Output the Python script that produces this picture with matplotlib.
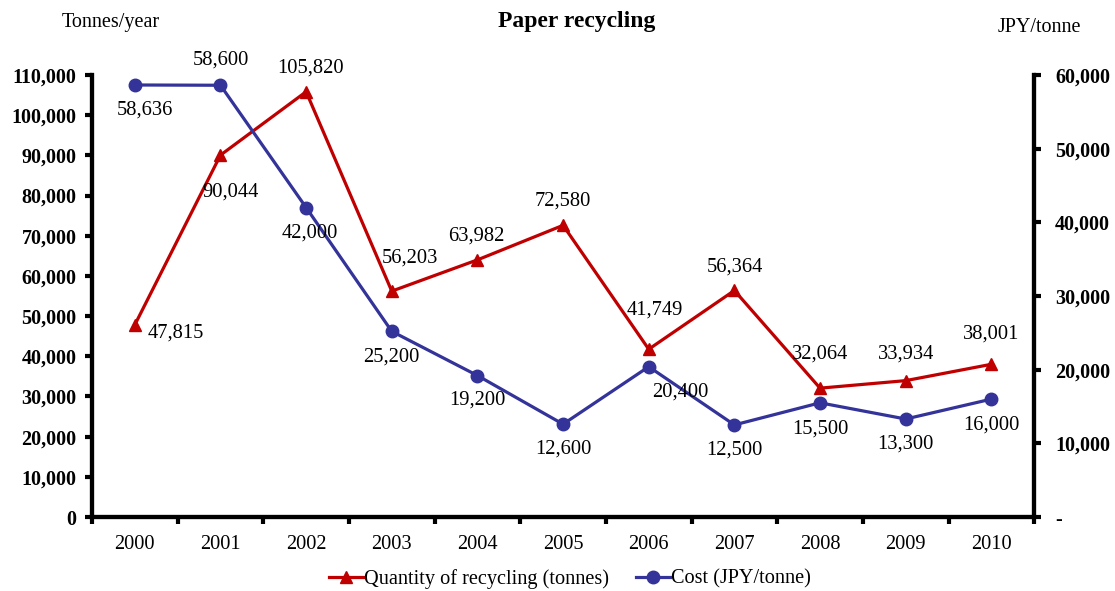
import matplotlib.pyplot as plt
from matplotlib.ticker import FuncFormatter

plt.rcParams['font.family'] = ['Liberation Serif', 'DejaVu Serif']

years = ['2000', '2001', '2002', '2003', '2004', '2005', '2006', '2007', '2008', '2009', '2010']
quantity = [47815, 90044, 105820, 56203, 63982, 72580, 41749, 56364, 32064, 33934, 38001]
cost = [58636, 58600, 42000, 25200, 19200, 12600, 20400, 12500, 15500, 13300, 16000]

# label offsets in pixels (dx, dy) relative to each point
qty_offsets = [(13, -8), (10, -37), (4, 24), (18, 33), (-1, 24), (0, 24),
               (6, 39), (1, 23), (0, 34), (0, 27), (0, 30)]
cost_offsets = [(10, -25), (0, 25), (4, -25), (0, -26), (0, -25), (0, -25),
                (32, -25), (0, -25), (0, -26), (0, -25), (0, -26)]

red = '#C00000'
blue = '#333399'

fig = plt.figure(figsize=(11.15, 5.91), dpi=100)
ax = fig.add_axes([0.0825, 0.1252, 0.845, 0.748])
ax2 = ax.twinx()

x = list(range(len(years)))
l1, = ax.plot(x, quantity, color=red, lw=2.3, marker='^', markersize=9,
              label='Quantity of recycling (tonnes)')
l2, = ax2.plot(x, cost, color=blue, lw=2.3, marker='o', markersize=9,
               label='Cost (JPY/tonne)')

for i, v in enumerate(quantity):
    dx, dy = qty_offsets[i]
    ha = 'left' if i == 0 else 'center'
    ax.annotate(f'{v:,}', (i, v), xytext=(dx, dy), textcoords='offset pixels',
                ha=ha, va='center', fontsize=14.8)
for i, v in enumerate(cost):
    dx, dy = cost_offsets[i]
    ax2.annotate(f'{v:,}', (i, v), xytext=(dx, dy), textcoords='offset pixels',
                 ha='center', va='center', fontsize=14.8)

ax.set_xlim(-0.5, len(years) - 0.5)
ax.set_ylim(0, 110000)
ax2.set_ylim(0, 60000)
ax.set_yticks(range(0, 110001, 10000))
ax2.set_yticks(range(0, 60001, 10000))
ax.yaxis.set_major_formatter(FuncFormatter(lambda v, p: f'{int(v):,}'))
ax2.yaxis.set_major_formatter(FuncFormatter(lambda v, p: '-' if v == 0 else f'{int(v):,}'))

# category labels centred, ticks between categories
ax.set_xticks([i - 0.5 for i in range(len(years) + 1)])
ax.set_xticklabels([])
ax.set_xticks(x, minor=True)
ax.set_xticklabels(years, minor=True, fontsize=14.7)
ax.tick_params(axis='x', which='major', length=5, width=3, direction='out')
ax.tick_params(axis='x', which='minor', length=0, pad=13)

for a in (ax, ax2):
    a.spines['top'].set_visible(False)
    for s in ('left', 'right', 'bottom'):
        a.spines[s].set_linewidth(3)
ax.tick_params(axis='y', length=5, width=3, pad=6, labelsize=14.5)
ax2.tick_params(axis='y', length=5, width=3, pad=10, labelsize=14.5)
for lab in ax.get_yticklabels() + ax2.get_yticklabels():
    lab.set_fontweight('bold')

fig.text(577 / 1115, 1 - 22 / 591, 'Paper recycling', ha='center', va='center',
         fontsize=17, fontweight='bold')
fig.text(111 / 1115, 1 - 22 / 591, 'Tonnes/year', ha='center', va='center', fontsize=14.5)
fig.text(1039 / 1115, 1 - 27 / 591, 'JPY/tonne', ha='center', va='center', fontsize=14.5)

fig.legend([l1, l2], [l1.get_label(), l2.get_label()], loc='center',
           bbox_to_anchor=(570 / 1115, 1 - 579 / 591), ncol=2, frameon=False,
           fontsize=14.6, handlelength=1.7, handletextpad=0.05, columnspacing=1.3)

fig.savefig('out.png', dpi=100)
